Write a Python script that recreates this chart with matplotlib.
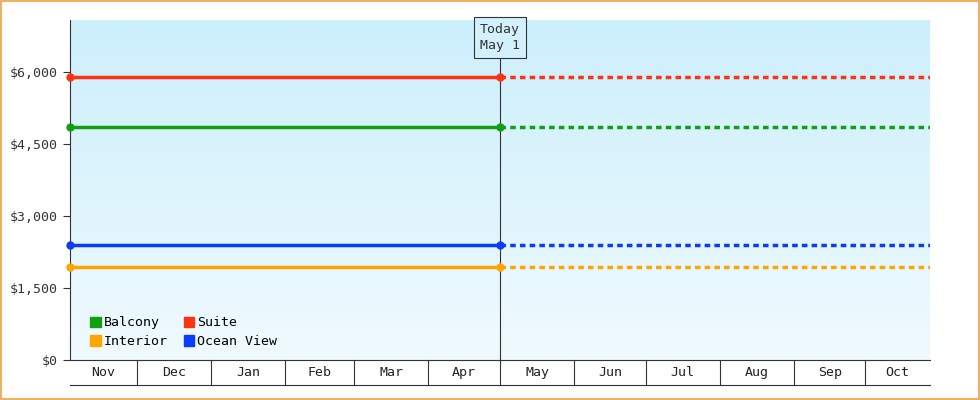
import matplotlib
matplotlib.use("Agg")
import matplotlib.pyplot as plt
import matplotlib.dates as mdates
import matplotlib.transforms as mtrans
import numpy as np
from datetime import date
from matplotlib.colors import LinearSegmentedColormap
from matplotlib.patches import Patch

series = ["Balcony", "Interior", "Suite", "Ocean View"]
values = [4850, 1940, 5900, 2400]
colors = ["#11a011", "#ffa500", "#ff3311", "#0a3cff"]
start = date(2023, 11, 3)
today = date(2024, 5, 1)
end = date(2024, 10, 28)
month_starts = [date(2023, 11, 1), date(2023, 12, 1)] + [date(2024, m, 1) for m in range(1, 12)]
month_labels = ["Nov", "Dec", "Jan", "Feb", "Mar", "Apr", "May", "Jun", "Jul", "Aug", "Sep", "Oct"]
yticks = [0, 1500, 3000, 4500, 6000]

plt.rcParams['font.family'] = ['DejaVu Sans Mono']
fig = plt.figure(figsize=(9.8, 4.0), dpi=100)
fig.patch.set_facecolor("white")
fig.patches.append(plt.Rectangle((0.001, 0.002), 0.998, 0.996, transform=fig.transFigure,
                                 fill=False, edgecolor="#f0a040", linewidth=1.2))
ax = fig.add_axes([70/980, 40/400, 860/980, 340/400])

xs, xe, xt = mdates.date2num(start), mdates.date2num(end), mdates.date2num(today)
grad = np.linspace(0, 1, 256).reshape(-1, 1)
cmap = LinearSegmentedColormap.from_list("bg", ["#f0fafe", "#cceffc"])
ax.imshow(grad, extent=[0, 1, 0, 1], transform=ax.transAxes, cmap=cmap, origin="lower",
          aspect="auto", zorder=0)

for name, v, c in zip(series, values, colors):
    ax.plot([xs, xt], [v, v], color=c, lw=2.5, zorder=3, solid_capstyle="butt")
    ax.plot([xt, xe], [v, v], color=c, lw=2.5, ls=(0, (1.6, 1.2)), zorder=3)
    ax.plot([xs, xt], [v, v], 'o', color=c, ms=5, zorder=4, clip_on=False)

ax.axvline(xt, color="#333333", lw=0.8, zorder=2)
ax.text(xt, 0.992, "Today\nMay 1", transform=mtrans.blended_transform_factory(ax.transData, ax.transAxes),
        ha="center", va="top", multialignment="center", fontsize=9.5, color="#333333", zorder=5,
        linespacing=1.35,
        bbox=dict(boxstyle="square,pad=0.45", fc="#d3f1fc", ec="#333333", lw=0.8))

ax.set_xlim(xs, xe)
ax.set_ylim(0, 7080)
ax.set_yticks(yticks)
ax.set_yticklabels([f"${v:,}" for v in yticks], fontsize=9.5, color="#333333")
ax.tick_params(axis="y", length=5, color="#333333")
ax.set_xticks([])
for s in ["top", "right"]:
    ax.spines[s].set_visible(False)
ax.spines["left"].set_color("#333333")
ax.spines["bottom"].set_color("#333333")

bt = mtrans.blended_transform_factory(ax.transData, ax.transAxes)
yb = -25/340
ax.plot([xs, xe], [yb, yb], transform=bt, color="#333333", lw=0.8, clip_on=False)
for i, lab in enumerate(month_labels):
    a = max(mdates.date2num(month_starts[i]), xs)
    b = min(mdates.date2num(month_starts[i+1]), xe)
    if i > 0:
        ax.plot([a, a], [0, yb], transform=bt, color="#333333", lw=0.8, clip_on=False)
    ax.text((a+b)/2, yb/2, lab, transform=bt, ha="center", va="center", fontsize=9.5, color="#222222")

handles = [Patch(color=c) for c in colors]
ax.legend(handles, series, loc="lower left", ncol=2, frameon=False, fontsize=9.5,
          handlelength=0.8, handleheight=0.8, handletextpad=0.2, columnspacing=1.2,
          borderaxespad=0.5, labelspacing=0.45, bbox_to_anchor=(0.01, 0.0))

fig.savefig("out.png", dpi=100)
